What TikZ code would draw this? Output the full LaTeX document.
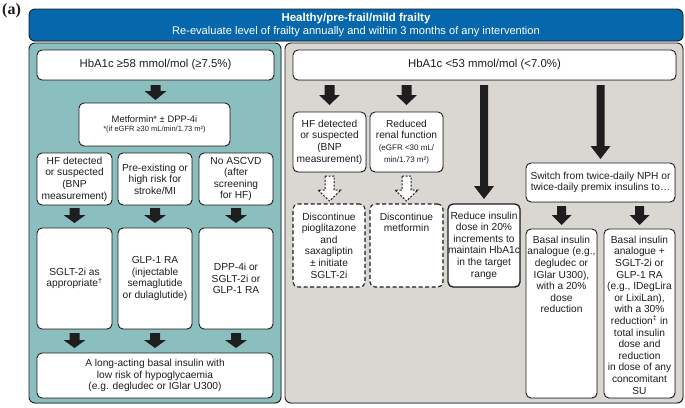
\documentclass[tikz,border=0pt]{standalone}
\usepackage{fontspec}
\setmainfont{Liberation Sans}
\newfontfamily\serifbf{Liberation Serif}
\usetikzlibrary{calc,shadows}
\definecolor{hdblue}{HTML}{0767AC}
\definecolor{panelteal}{HTML}{8BBFBF}
\definecolor{panelgrey}{HTML}{DAD6D2}
\definecolor{ink}{HTML}{1E1E1E}
\newcommand\bx[8][c]{%
  \pgfmathsetmacro\bxw{#6-#4}%
  \pgfmathsetmacro\bxh{#7-#5}%
  \node[#2, anchor=north west, inner sep=0pt, outer sep=0pt] (#3) at (#4,#5)
    {\parbox[c][\bxh pt][#1]{\bxw pt}{\centering #8\par}};%
}
% block arrow: style, start, end, shaft half width, head half width, head length
\newcommand\barrow[6][]{%
  \path[#1] let \p1=(#2), \p2=(#3) in
    (\x1-#4pt,\y1) -- (\x1+#4pt,\y1) -- (\x1+#4pt,\y2+#6pt) -- (\x1+#5pt,\y2+#6pt)
    -- (\x1,\y2) -- (\x1-#5pt,\y2+#6pt) -- (\x1-#4pt,\y2+#6pt) -- cycle;%
}
\tikzset{
  x=1pt, y=-1pt,
  bfont/.style={font=\fontsize{10.2}{11.6}\selectfont},
  shad/.style={drop shadow={shadow xshift=0.5pt, shadow yshift=-0.7pt, opacity=0.55}},
  box/.style={draw=ink, line width=0.9pt, fill=white, rounded corners=5pt, text=ink, bfont, shad},
  bigbox/.style={box, font=\fontsize{11.4}{13}\selectfont},
  dbox/.style={draw=ink, line width=1.1pt, fill=white, rounded corners=5pt,
    dash pattern=on 4pt off 2.5pt, text=ink, bfont},
  panel/.style={draw=ink, line width=0.9pt, rounded corners=6pt, shad},
  hdr/.style={draw=ink, line width=0.9pt, fill=hdblue, rounded corners=6pt, text=white, shad},
  sarrow/.style={fill=ink},
  harrow/.style={draw=ink, fill=white, line width=1pt, dash pattern=on 2pt off 1.5pt},
}
\begin{document}
\begin{tikzpicture}
\useasboundingbox (0,0) rectangle (685,407);
\node[anchor=north west, inner sep=0pt, text=ink,
  font=\serifbf\bfseries\fontsize{16}{16}\selectfont] (lbl) at (2,3) {(a)};
\bx{hdr}{hdr}{29}{9}{683}{41}{\fontsize{11.5}{13}\selectfont\bfseries Healthy/pre-frail/mild frailty\par
  \mdseries\fontsize{11.1}{13}\selectfont Re-evaluate level of frailty annually and within 3 months of any intervention}
\bx{panel, fill=panelteal}{lp}{29}{43}{281}{403}{\mbox{}}
\bx{panel, fill=panelgrey}{rp}{285}{43}{683}{403}{\mbox{}}
% left panel
\bx{bigbox}{lhba}{37}{50}{274}{80}{HbA1c ≥58 mmol/mol (≥7.5\%)}
\bx{box}{met}{79}{103}{230}{146}{\fontsize{9.4}{11}\selectfont Metformin* ± DPP-4i\par
  \fontsize{7.5}{9.5}\selectfont *(if eGFR ≥30 mL/min/1.73 m²)}
\bx{box}{c1}{37}{153}{112}{205}{HF detected\\or suspected\\(BNP\\measurement)}
\bx{box}{c2}{118}{153}{192}{205}{Pre-existing or\\high risk for\\stroke/MI}
\bx{box}{c3}{199}{153}{273}{205}{No ASCVD\\(after\\screening\\for HF)}
\bx{box}{t1}{37}{228}{112}{329}{SGLT-2i as\\appropriate\textsuperscript{†}}
\bx{box}{t2}{118}{228}{192}{329}{GLP-1 RA\\(injectable\\semaglutide\\or dulaglutide)}
\bx{box}{t3}{199}{228}{273}{329}{DPP-4i or\\SGLT-2i or\\GLP-1 RA}
\bx{box}{bas}{37}{353}{273}{398}{A long-acting basal insulin with\\low risk of hypoglycaemia\\(e.g. degludec or IGlar U300)}
% right panel
\bx{bigbox}{rhba}{293}{50}{676}{80}{HbA1c <53 mmol/mol (<7.0\%)}
\bx{box}{hf}{293}{112}{366}{172}{HF detected\\or suspected\\(BNP\\measurement)}
\bx{box}{renal}{370}{112}{443}{172}{Reduced\\renal function\par
  \fontsize{8}{12}\selectfont (eGFR <30 mL/\\min/1.73 m²)}
\bx{dbox}{disc1}{293}{204}{365}{287}{Discontinue\\pioglitazone\\and\\saxagliptin\\± initiate\\SGLT-2i}
\bx[t]{dbox}{disc2}{370}{204}{443}{287}{\vspace*{9pt}Discontinue\\metformin}
\bx{box, line width=1.3pt}{red}{448}{204}{520}{287}{Reduce insulin\\dose in 20\%\\increments to\\maintain HbA1c\\in the target\\range}
\bx{box}{sw}{526}{163}{675}{202}{Switch from twice-daily NPH or\\twice-daily premix insulins to…}
\bx[t]{box}{b1}{526}{229}{597}{398}{\vspace*{7pt}Basal insulin\\analogue (e.g.,\\degludec or\\IGlar U300),\\with a 20\%\\dose\\reduction}
\bx[t]{box}{b2}{604}{229}{675}{398}{\vspace*{7pt}Basal insulin\\analogue +\\SGLT-2i or\\GLP-1 RA\\(e.g., IDegLira\\or LixiLan),\\with a 30\%\\reduction\textsuperscript{‡} in\\total insulin\\dose and\\reduction\\in dose of any\\concomitant\\SU}
% arrows left
\barrow[sarrow]{$(lhba.south)+(0,5)$}{$(lhba.south |- met.north)+(0,-3)$}{5}{11}{9}
\foreach \a/\b in {c1/t1, c2/t2, c3/t3}{
  \barrow[sarrow]{$(\a.south)+(0,3)$}{$(\b.north)+(0,-5)$}{5}{11}{8}
}
\foreach \a in {t1, t2, t3}{
  \barrow[sarrow]{$(\a.south)+(0,4)$}{$(\a.south |- bas.north)+(0,-5)$}{5}{11}{8}
}
% arrows right
\foreach \b in {hf, renal}{
  \barrow[sarrow]{$(\b.north |- rhba.south)+(0,5)$}{$(\b.north)+(0,-7)$}{5}{10.5}{10}
}
\barrow[sarrow]{$(red.north |- rhba.south)+(0,5)$}{$(red.north)+(0,-5)$}{4}{10}{13}
\barrow[sarrow]{$(sw.north |- rhba.south)+(0,5)$}{$(sw.north)+(0,-4)$}{4}{10}{13}
\foreach \b in {b1, b2}{
  \barrow[sarrow]{$(\b.north |- sw.south)+(0,4)$}{$(\b.north)+(0,-4)$}{4.5}{10}{10}
}
\barrow[harrow]{$(hf.south)+(0,4)$}{$(disc1.north)+(0,-3)$}{4.5}{11.5}{11}
\barrow[harrow]{$(renal.south)+(0,4)$}{$(disc2.north)+(0,-3)$}{4.5}{11.5}{11}
\end{tikzpicture}
\end{document}
